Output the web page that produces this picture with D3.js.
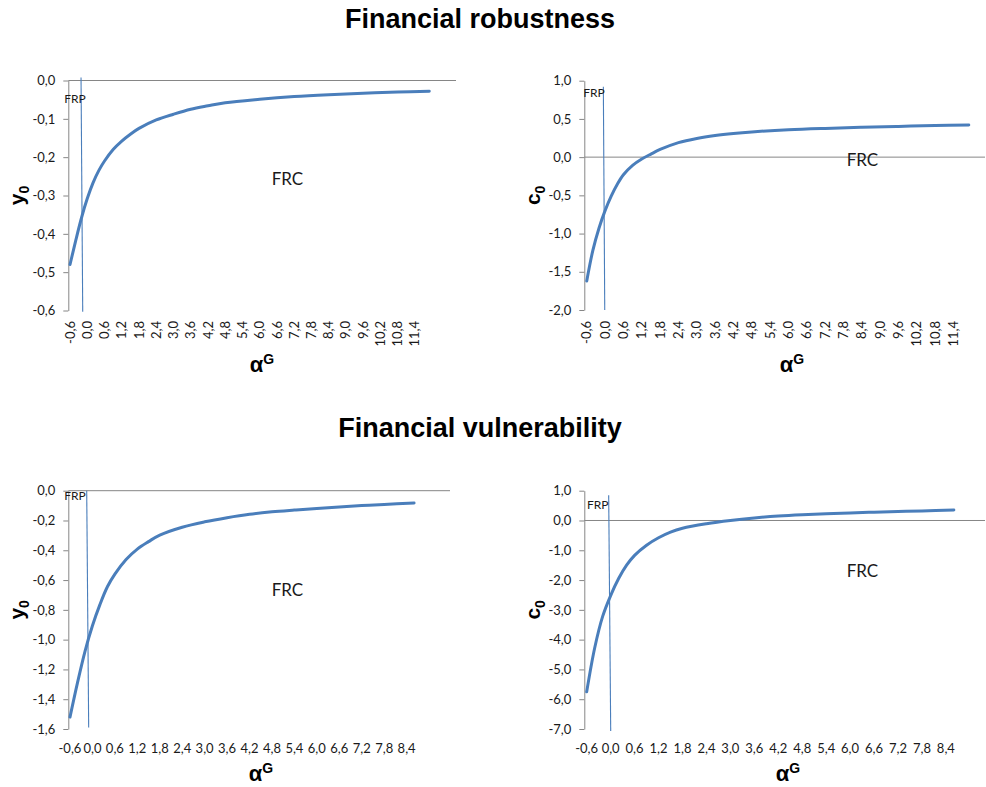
<!DOCTYPE html>
<html>
<head>
<meta charset="utf-8">
<script src="https://cdn.jsdelivr.net/npm/d3@7"></script>
<style>
  body { margin: 0; background: #ffffff; }
  svg { display: block; }
</style>
</head>
<body>
<svg id="chart" width="986" height="787"></svg>
<script>
// ---- data -------------------------------------------------------------
// alpha^G values at which the curves are sampled
const alphaRobust = [-0.6, -0.4, -0.2, 0.0, 0.2, 0.4, 0.6, 0.9, 1.2, 1.5, 1.8, 2.4, 3.0, 3.6, 4.2, 4.8, 6.0, 7.2, 8.4, 9.6, 10.8, 11.9];
const y0Robust = [-0.48, -0.417, -0.358, -0.308, -0.267, -0.235, -0.21, -0.18, -0.158, -0.14, -0.125, -0.103, -0.088, -0.075, -0.066, -0.058, -0.049, -0.042, -0.037, -0.033, -0.030, -0.028];
const c0Robust = [-1.62, -1.22, -0.93, -0.70, -0.51, -0.355, -0.231, -0.108, -0.025, 0.04, 0.10, 0.19, 0.245, 0.283, 0.31, 0.33, 0.358, 0.376, 0.39, 0.402, 0.413, 0.42];

const alphaVuln = [-0.6, -0.4, -0.2, 0.0, 0.2, 0.4, 0.6, 0.9, 1.2, 1.5, 1.8, 2.4, 3.0, 3.6, 4.2, 4.8, 5.4, 6.0, 6.6, 7.2, 7.8, 8.6];
const y0Vuln = [-1.52, -1.29, -1.08, -0.907, -0.765, -0.645, -0.56, -0.462, -0.392, -0.342, -0.298, -0.245, -0.209, -0.181, -0.158, -0.142, -0.13, -0.119, -0.109, -0.100, -0.092, -0.083];
const c0Vuln = [-5.75, -4.28, -3.22, -2.52, -1.95, -1.50, -1.17, -0.83, -0.58, -0.39, -0.26, -0.11, 0.0, 0.085, 0.15, 0.195, 0.228, 0.255, 0.278, 0.30, 0.32, 0.35];

// axis tick values
const xTicksRobust = [-0.6, 0.0, 0.6, 1.2, 1.8, 2.4, 3.0, 3.6, 4.2, 4.8, 5.4, 6.0, 6.6, 7.2, 7.8, 8.4, 9.0, 9.6, 10.2, 10.8, 11.4];
const xTicksVuln = [-0.6, 0.0, 0.6, 1.2, 1.8, 2.4, 3.0, 3.6, 4.2, 4.8, 5.4, 6.0, 6.6, 7.2, 7.8, 8.4];
const yTicksY0Robust = [0.0, -0.1, -0.2, -0.3, -0.4, -0.5, -0.6];
const yTicksC0Robust = [1.0, 0.5, 0.0, -0.5, -1.0, -1.5, -2.0];
const yTicksY0Vuln = [0.0, -0.2, -0.4, -0.6, -0.8, -1.0, -1.2, -1.4, -1.6];
const yTicksC0Vuln = [1.0, 0.0, -1.0, -2.0, -3.0, -4.0, -5.0, -6.0, -7.0];

// FRP marker segments: [alpha, value] at top and bottom
const frpY0Robust = [[-0.217, 0.008], [-0.158, -0.603]];
const frpC0Robust = [[-0.057, 0.92], [-0.011, -2.0]];
const frpY0Vuln = [[-0.153, 0.0], [-0.10, -1.59]];
const frpC0Vuln = [[-0.049, 0.85], [0.0015, -7.07]];

const sectionTitles = ["Financial robustness", "Financial vulnerability"];

// ---- layout -----------------------------------------------------------
const panels = [
  { alpha: alphaRobust, values: y0Robust, xTicks: xTicksRobust, yTicks: yTicksY0Robust, frp: frpY0Robust,
    yName: "y", left: 68.3, right: 456, top: 80.5, bottom: 310.5, xDom: [-0.66, 12.83], yDom: [-0.6, 0],
    rotated: true, xLabelY: 321, yTitleX: 24, xTitle: [262, 371.7], frpPos: [64.3, 103], frcPos: [271.7, 185] },
  { alpha: alphaRobust, values: c0Robust, xTicks: xTicksRobust, yTicks: yTicksC0Robust, frp: frpC0Robust,
    yName: "c", left: 584.3, right: 985, top: 80.7, bottom: 310, xDom: [-0.68, 12.43], yDom: [-2, 1],
    rotated: true, xLabelY: 321, yTitleX: 540, xTitle: [792, 371.7], frpPos: [583.3, 97], frcPos: [846.7, 166] },
  { alpha: alphaVuln, values: y0Vuln, xTicks: xTicksVuln, yTicks: yTicksY0Vuln, frp: frpY0Vuln,
    yName: "y", left: 68.3, right: 450, top: 490.7, bottom: 729, xDom: [-0.645, 9.56], yDom: [-1.6, 0],
    rotated: false, xLabelY: 752.5, yTitleX: 24, xTitle: [261, 781], frpPos: [64.3, 500], frcPos: [271.7, 596] },
  { alpha: alphaVuln, values: c0Vuln, xTicks: xTicksVuln, yTicks: yTicksC0Vuln, frp: frpC0Vuln,
    yName: "c", left: 584.3, right: 985, top: 490.7, bottom: 729, xDom: [-0.66, 9.38], yDom: [-7, 1],
    rotated: false, xLabelY: 752.5, yTitleX: 540, xTitle: [788, 781], frpPos: [587, 509], frcPos: [846.7, 577] }
];

const AXIS = "#868686";
const CURVE = "#4a7ebb";
const TEXT = "#1a1a1a";
const LABEL_FONT = "Lato, 'Open Sans', sans-serif";
const TITLE_FONT = "'Liberation Sans', Arial, sans-serif";

const fmt = d3.formatLocale({ decimal: ",", thousands: ".", grouping: [3], currency: ["", ""], minus: "-" }).format(".1f");

const svg = d3.select("#chart");

// section headings
svg.append("text").attr("x", 480).attr("y", 28.3).attr("text-anchor", "middle")
  .style("font", `bold 27px ${TITLE_FONT}`).attr("fill", "#000").text(sectionTitles[0]);
svg.append("text").attr("x", 480).attr("y", 437.3).attr("text-anchor", "middle")
  .style("font", `bold 27px ${TITLE_FONT}`).attr("fill", "#000").text(sectionTitles[1]);

panels.forEach(p => {
  const x = d3.scaleLinear().domain(p.xDom).range([p.left, p.right]);
  const y = d3.scaleLinear().domain(p.yDom).range([p.bottom, p.top]);
  const g = svg.append("g");

  // value axis
  const yAxis = g.append("g").attr("transform", `translate(${p.left},0)`)
    .call(d3.axisLeft(y).tickValues(p.yTicks).tickFormat(fmt).tickSize(5).tickSizeOuter(0).tickPadding(8));
  yAxis.select(".domain").attr("stroke", AXIS);
  yAxis.selectAll(".tick line").attr("stroke", AXIS);
  yAxis.selectAll(".tick text").attr("fill", TEXT).style("font", `13px ${LABEL_FONT}`);

  // category axis line at zero
  g.append("line").attr("x1", p.left).attr("x2", p.right).attr("y1", y(0)).attr("y2", y(0))
    .attr("stroke", AXIS).attr("stroke-width", 1);

  // category labels
  const lab = g.append("g").style("font", `13px ${LABEL_FONT}`).attr("fill", TEXT);
  p.xTicks.forEach(t => {
    if (p.rotated) {
      lab.append("text").attr("transform", `translate(${x(t)},${p.xLabelY}) rotate(-90)`)
        .attr("text-anchor", "end").attr("dy", "0.35em").text(fmt(t));
    } else {
      lab.append("text").attr("x", x(t)).attr("y", p.xLabelY).attr("text-anchor", "middle").text(fmt(t));
    }
  });

  // FRP marker
  g.append("line")
    .attr("x1", x(p.frp[0][0])).attr("y1", y(p.frp[0][1]))
    .attr("x2", x(p.frp[1][0])).attr("y2", y(p.frp[1][1]))
    .attr("stroke", CURVE).attr("stroke-width", 1.1);

  // curve
  const line = d3.line().x((d, i) => x(p.alpha[i])).y(d => y(d)).curve(d3.curveCatmullRom.alpha(0.5));
  g.append("path").datum(p.values).attr("d", line)
    .attr("fill", "none").attr("stroke", CURVE).attr("stroke-width", 3)
    .attr("stroke-linecap", "round").attr("stroke-linejoin", "round");

  // annotations
  g.append("text").attr("x", p.frpPos[0]).attr("y", p.frpPos[1])
    .style("font", `12px ${LABEL_FONT}`).attr("fill", TEXT).text("FRP");
  g.append("text").attr("x", p.frcPos[0]).attr("y", p.frcPos[1])
    .style("font", `17px ${LABEL_FONT}`).attr("fill", TEXT).text("FRC");

  // axis titles
  const xt = g.append("text").attr("x", p.xTitle[0]).attr("y", p.xTitle[1]).attr("text-anchor", "middle")
    .style("font", `bold 22px ${TITLE_FONT}`).attr("fill", "#000");
  xt.append("tspan").text("α");
  xt.append("tspan").attr("dy", -8).style("font-size", "14px").text("G");

  const cy = (p.top + p.bottom) / 2;
  const yt = g.append("text").attr("transform", `translate(${p.yTitleX},${cy}) rotate(-90)`)
    .attr("text-anchor", "middle").style("font", `bold 21px ${TITLE_FONT}`).attr("fill", "#000");
  yt.append("tspan").text(p.yName);
  yt.append("tspan").attr("dy", 5).style("font-size", "14px").text("0");
});
</script>
</body>
</html>
